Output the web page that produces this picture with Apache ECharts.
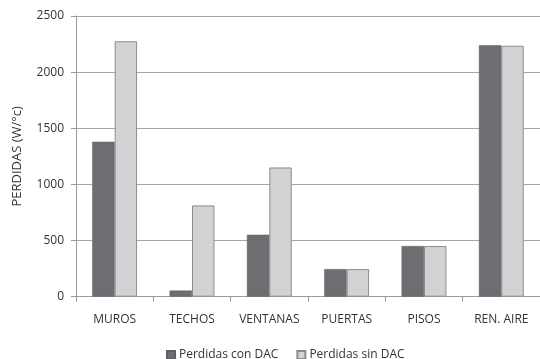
<!DOCTYPE html>
<html><head><meta charset="utf-8">
<script src="https://cdn.jsdelivr.net/npm/echarts@6/dist/echarts.min.js"></script>
<style>html,body{margin:0;padding:0;background:#fff}#c{width:540px;height:359px}</style>
</head><body><div id="c"></div>
<script>
const categories = ['MUROS','TECHOS','VENTANAS','PUERTAS','PISOS','REN. AIRE'];
const conDAC = [1380, 55, 552, 246, 451, 2240];
const sinDAC = [2275, 813, 1151, 246, 451, 2235];
const yTicks = {min:0, max:2500, interval:500};
const seriesNames = ['Perdidas con DAC','Perdidas sin DAC'];

const font = '"Open Sans", "Liberation Sans", sans-serif';
const chart = echarts.init(document.getElementById('c'), null, {renderer:'canvas'});
chart.setOption({
  animation:false,
  backgroundColor:'#fff',
  textStyle:{fontFamily:font},
  grid:{left:76, top:16, width:471.6, height:280.7, containLabel:false},
  legend:{
    data:seriesNames, left:161, top:344, itemWidth:8, itemHeight:8, itemGap:18,
    textStyle:{fontFamily:font, fontSize:12, color:'#333', padding:[0,0,0,-1]},
    icon:'rect'
  },
  xAxis:{
    type:'category', data:categories,
    axisLine:{lineStyle:{color:'#9a9a9a'}},
    axisTick:{show:true, length:5, lineStyle:{color:'#9a9a9a'}},
    axisLabel:{color:'#333', fontSize:12, fontFamily:font, margin:17, interval:0}
  },
  yAxis:{
    type:'value', min:yTicks.min, max:yTicks.max, interval:yTicks.interval,
    name:'PERDIDAS (W/°c)', nameLocation:'middle', nameGap:52,
    nameTextStyle:{color:'#333', fontSize:13, fontFamily:font},
    axisLine:{show:true, lineStyle:{color:'#9a9a9a'}},
    axisTick:{show:true, length:5, lineStyle:{color:'#9a9a9a'}},
    splitLine:{lineStyle:{color:'#a6a6a6'}},
    axisLabel:{color:'#333', fontSize:12, fontFamily:font, margin:12, formatter:v=>String(v)}
  },
  series:[
    {name:seriesNames[0], type:'bar', data:conDAC, barGap:'0%', barCategoryGap:'42%',
     itemStyle:{color:'#6d6e71', borderColor:'#5f6063', borderWidth:0.5}},
    {name:seriesNames[1], type:'bar', data:sinDAC, barGap:'0%', barCategoryGap:'42%',
     itemStyle:{color:'#d1d2d4', borderColor:'#8c8c8c', borderWidth:1}}
  ]
});
</script></body></html>
